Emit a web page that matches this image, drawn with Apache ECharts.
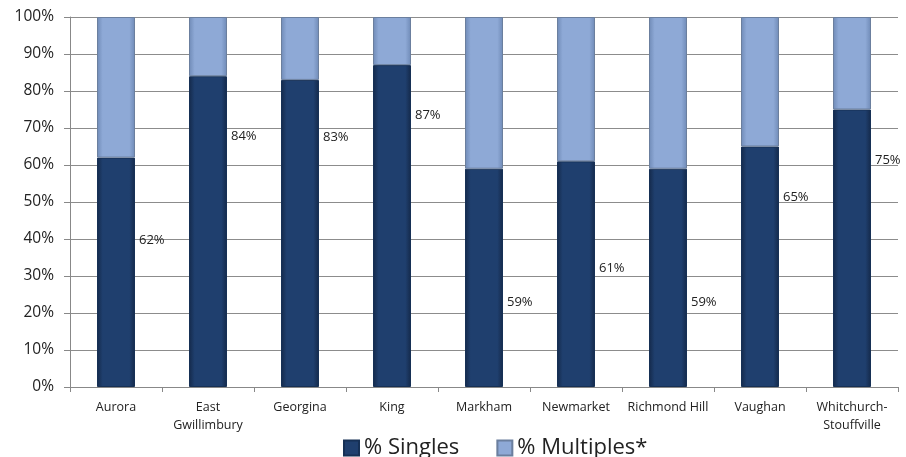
<!DOCTYPE html>
<html>
<head>
<meta charset="utf-8">
<script src="https://cdn.jsdelivr.net/npm/echarts@6/dist/echarts.min.js"></script>
<style>
  html, body { margin: 0; padding: 0; background: #fff; }
  #chart { width: 906px; height: 457px; }
</style>
</head>
<body>
<div id="chart"></div>
<script>
// Share of single-detached vs. multiple dwellings by municipality
const municipalities = ['Aurora', 'East\nGwillimbury', 'Georgina', 'King', 'Markham',
  'Newmarket', 'Richmond Hill', 'Vaughan', 'Whitchurch-\nStouffville'];
const singlesPct = [62, 84, 83, 87, 59, 61, 59, 65, 75];
const multiplesPct = singlesPct.map(v => 100 - v);
const yTicks = [0, 10, 20, 30, 40, 50, 60, 70, 80, 90, 100];

// vertical nudge (px) of each value label from the middle of its bar
const labelNudge = [-32, -95, -96, -111, 24, -6, 24, -69, -88];

const FONT = '"Open Sans", "Noto Sans", sans-serif';

function barGradient(edge, mid) {
  return new echarts.graphic.LinearGradient(0, 0, 1, 0, [
    { offset: 0, color: edge },
    { offset: 0.15, color: mid },
    { offset: 0.85, color: mid },
    { offset: 1, color: edge }
  ]);
}

const chart = echarts.init(document.getElementById('chart'));
chart.setOption({
  animation: false,
  grid: { left: 70, right: 8, top: 17, bottom: 70, containLabel: false },
  legend: {
    top: 432,
    left: 338,
    itemWidth: 15,
    itemHeight: 15,
    itemGap: 37,
    icon: 'rect',
    textStyle: { fontFamily: FONT, fontSize: 22, color: '#222', padding: [0, 0, 0, 0] },
    data: ['% Singles', '% Multiples*']
  },
  xAxis: {
    type: 'category',
    data: municipalities,
    axisLine: { lineStyle: { color: '#888', width: 1 } },
    axisTick: { show: true, length: 5, lineStyle: { color: '#888' } },
    axisLabel: { fontFamily: FONT, fontSize: 12.5, color: '#222', margin: 11, lineHeight: 18, interval: 0 }
  },
  yAxis: {
    type: 'value',
    min: 0,
    max: 100,
    interval: 10,
    axisLine: { show: true, lineStyle: { color: '#888' } },
    axisTick: { show: true, length: 6, lineStyle: { color: '#888' } },
    splitLine: { lineStyle: { color: '#8c8c8c', width: 1 } },
    axisLabel: {
      fontFamily: FONT, fontSize: 15.5, color: '#222', margin: 16,
      formatter: v => yTicks.includes(v) ? v + '%' : ''
    }
  },
  series: [
    {
      name: '% Singles',
      type: 'bar',
      stack: 'total',
      barWidth: 38,
      itemStyle: {
        color: barGradient('#14294a', '#1f3f6e'),
        borderColor: '#163055',
        borderWidth: 1
      },
      data: singlesPct.map((v, i) => ({
        value: v,
        label: {
          show: true,
          position: 'right',
          distance: 4,
          offset: [0, labelNudge[i]],
          formatter: v + '%',
          fontFamily: FONT,
          fontSize: 13,
          color: '#222'
        }
      }))
    },
    {
      name: '% Multiples*',
      type: 'bar',
      stack: 'total',
      barWidth: 38,
      itemStyle: {
        color: barGradient('#6f8ab6', '#8ea9d6'),
        borderColor: '#6b7f9e',
        borderWidth: 1
      },
      data: multiplesPct
    }
  ]
});
</script>
</body>
</html>
